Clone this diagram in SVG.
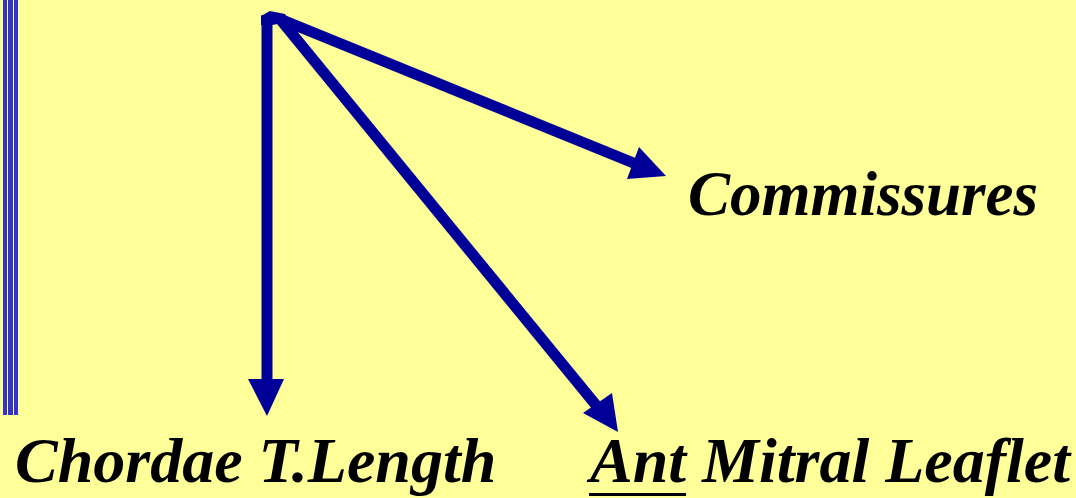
<svg xmlns="http://www.w3.org/2000/svg" width="1076" height="498" viewBox="0 0 1076 498">
<defs>
<style>
.t{font-family:"Liberation Serif","Times New Roman",serif;font-weight:bold;font-style:italic;font-size:64px;fill:#000}
.c{stroke:#000099;stroke-width:11;fill:none}
.h{fill:#000099}
.b{fill:#3333cc}
</style>
</defs>
<rect width="1076" height="498" fill="#ffff99"/>
<g id="bars">
<rect class="b" x="3" y="0" width="4" height="415"/>
<rect class="b" x="8" y="0" width="5" height="415"/>
<rect class="b" x="14" y="0" width="4" height="415"/>
</g>
<g id="connectors">
<line class="c" x1="267" y1="15" x2="267" y2="380"/>
<polygon class="h" points="261,16 270,11 285,14 290,22 272,25 261,25"/>
<line class="c" x1="280" y1="19" x2="636" y2="164"/>
<line class="c" x1="280" y1="19" x2="600" y2="410"/>
<polygon class="h" points="248,379 284,379 267,416"/>
<polygon class="h" points="639,147 627,179 666,176"/>
<polygon class="h" points="583,413 612,393 618,432"/>
</g>
<g id="commissures"><text class="t" x="688" y="215" textLength="350" lengthAdjust="spacingAndGlyphs">Commissures</text></g>
<g id="chordae"><text class="t" x="15" y="482">Chordae T.Length</text></g>
<g id="ant"><text class="t" x="590" y="482">Ant Mitral Leaflet</text><rect x="589" y="493" width="97" height="3" fill="#000"/></g>
</svg>
